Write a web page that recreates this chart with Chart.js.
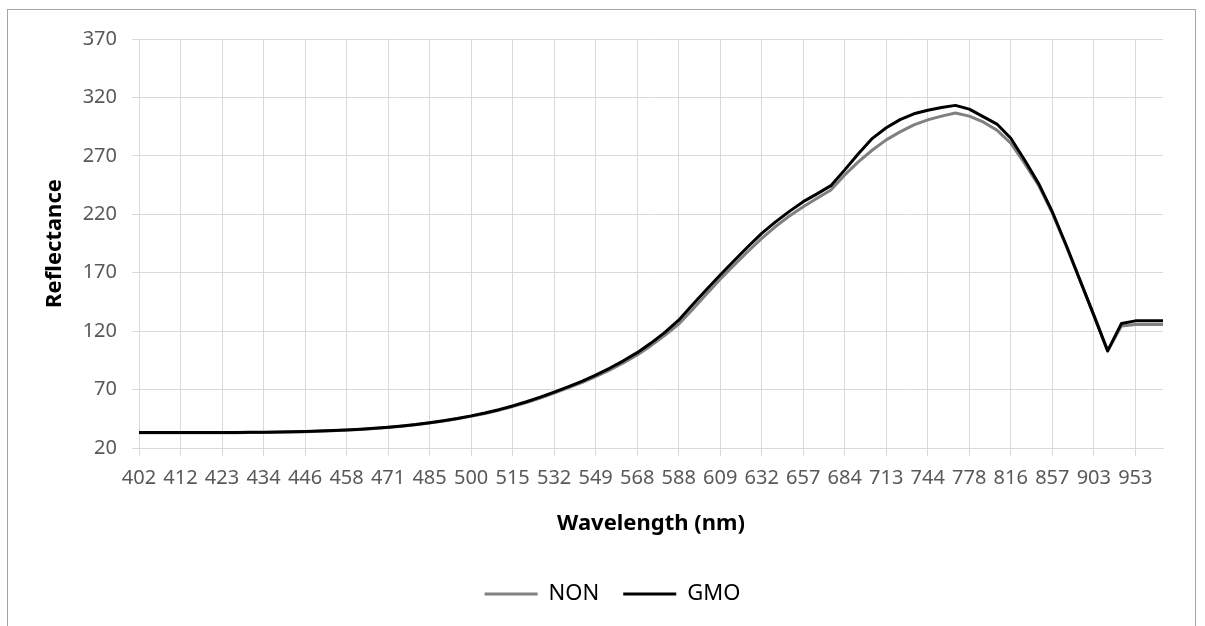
<!DOCTYPE html>
<html>
<head>
<meta charset="utf-8">
<script src="https://cdn.jsdelivr.net/npm/chart.js"></script>
<style>
    body { margin: 0; background: #ffffff; }
    #wrap { position: relative; width: 1205px; height: 626px; overflow: hidden; }
    #frame { position: absolute; left: 7px; top: 9px; width: 1189px; height: 640px; border: 1px solid #a6a6a6; box-sizing: border-box; pointer-events: none; }
    canvas { position: absolute; left: 0; top: 0; }
</style>
</head>
<body>
<div id="wrap">
    <canvas id="spectrumChart" width="1205" height="626"></canvas>
    <div id="frame"></div>
</div>
<script>
// Wavelength of each spectrometer band (nm), only every third one gets a label
const wavelengths = [
    402, 405, 409, 412, 416, 419, 423, 427, 430, 434, 438, 442, 446, 450, 454,
    458, 462, 467, 471, 476, 480, 485, 490, 495, 500, 505, 510, 515, 521, 526,
    532, 538, 543, 549, 555, 562, 568, 575, 581, 588, 595, 602, 609, 617, 624,
    632, 640, 648, 657, 666, 675, 684, 694, 703, 713, 723, 733, 744, 755, 766,
    778, 791, 803, 816, 829, 843, 857, 872, 887, 903, 919, 936, 953, 970, 988
];

// Mean reflectance, non-GMO samples
const nonValues = [
    33.0, 33.0, 33.0, 33.0, 33.0, 33.1, 33.1, 33.1, 33.2, 33.3,
    33.5, 33.7, 34.0, 34.4, 34.8, 35.3, 35.9, 36.6, 37.5, 38.6,
    39.9, 41.4, 43.1, 45.0, 47.1, 49.6, 52.3, 55.4, 58.9, 62.7,
    67.0, 71.4, 76.0, 81.0, 86.6, 92.8, 99.6, 107.6, 116.4, 126.0,
    138.5, 151.5, 164.5, 176.5, 188.2, 199.4, 209.5, 218.5, 226.5, 233.8,
    240.8, 253.7, 265.0, 275.0, 283.7, 290.5, 296.5, 300.8, 304.0, 306.6,
    304.0, 299.0, 292.0, 280.8, 263.6, 245.0, 221.0, 193.0, 163.5, 133.5,
    103.0, 124.5, 125.6, 125.7, 125.7
];

// Mean reflectance, GMO samples
const gmoValues = [
    33.2, 33.2, 33.2, 33.2, 33.2, 33.3, 33.3, 33.3, 33.4, 33.5,
    33.7, 33.9, 34.2, 34.6, 35.0, 35.5, 36.1, 36.8, 37.7, 38.8,
    40.1, 41.7, 43.4, 45.3, 47.5, 50.0, 52.8, 56.0, 59.6, 63.5,
    67.8, 72.3, 77.1, 82.3, 88.2, 94.6, 101.6, 109.8, 119.0, 129.4,
    142.5, 155.5, 168.0, 180.2, 192.2, 203.7, 213.5, 222.5, 230.8, 237.5,
    244.5, 258.0, 272.0, 285.0, 294.0, 301.0, 306.0, 309.0, 311.3, 313.2,
    310.0, 303.6, 297.2, 285.1, 266.5, 246.6, 222.2, 193.7, 163.7, 133.7,
    103.1, 126.6, 128.8, 128.9, 128.9
];

const yTicks = { min: 20, max: 370, step: 50 };
const labelEvery = 3;

const gridColor = '#d9d9d9';
const tickFont = { family: "'Noto Sans', 'Open Sans', sans-serif", size: 20 };
const titleFont = { family: "'Noto Sans', 'Open Sans', sans-serif", size: 22, weight: 'bold' };

// grid lines and tick marks only on the labelled bands
function everyThird(ctx) {
    return ctx.index % labelEvery === 0 ? gridColor : 'rgba(0,0,0,0)';
}

const ctx = document.getElementById('spectrumChart').getContext('2d');
const chart = new Chart(ctx, {
    type: 'line',
    data: {
        labels: wavelengths,
        datasets: [{
            label: 'NON',
            data: nonValues,
            borderColor: '#808080',
            backgroundColor: '#808080',
            borderWidth: 3,
            pointRadius: 0,
            tension: 0,
            borderJoinStyle: 'round',
            fill: false,
            order: 1 // drawn under GMO
        }, {
            label: 'GMO',
            data: gmoValues,
            borderColor: '#000000',
            backgroundColor: '#000000',
            borderWidth: 3,
            pointRadius: 0,
            tension: 0,
            borderJoinStyle: 'round',
            fill: false,
            order: 0
        }]
    },
    options: {
        responsive: false,
        animation: false,
        // left padding keeps the legend centred a bit right of the canvas middle
        layout: { padding: { top: 39, right: 42, bottom: 11, left: 62 } },
        plugins: {
            tooltip: { enabled: false },
            legend: {
                position: 'bottom',
                labels: {
                    usePointStyle: true,
                    pointStyle: 'line',
                    pointStyleWidth: 53,
                    padding: 24,
                    color: '#000000',
                    font: { family: "'Noto Sans', 'Open Sans', sans-serif", size: 22 },
                    sort: (a, b) => a.datasetIndex - b.datasetIndex
                }
            }
        },
        scales: {
            x: {
                offset: false,
                afterFit: function (scale) { scale.height = 111; },
                grid: {
                    color: everyThird,
                    tickColor: everyThird,
                    tickLength: 8,
                    lineWidth: 1
                },
                border: { color: gridColor },
                ticks: {
                    autoSkip: false,
                    maxRotation: 0,
                    minRotation: 0,
                    padding: 10,
                    color: '#595959',
                    font: tickFont,
                    callback: function (value, index) {
                        return index % labelEvery === 0 ? wavelengths[index] : '';
                    }
                },
                title: {
                    display: true,
                    text: 'Wavelength (nm)',
                    color: '#000000',
                    font: titleFont,
                    padding: { top: 0, bottom: 22 }
                }
            },
            y: {
                min: yTicks.min,
                max: yTicks.max,
                afterFit: function (scale) { scale.width = 77; },
                grid: {
                    color: gridColor,
                    tickLength: 7,
                    lineWidth: 1
                },
                border: { color: gridColor },
                ticks: {
                    stepSize: yTicks.step,
                    padding: 15,
                    color: '#595959',
                    font: tickFont
                },
                title: {
                    display: true,
                    text: 'Reflectance',
                    color: '#000000',
                    font: titleFont,
                    padding: { top: -20, bottom: 0 }
                }
            }
        }
    }
});
</script>
</body>
</html>
